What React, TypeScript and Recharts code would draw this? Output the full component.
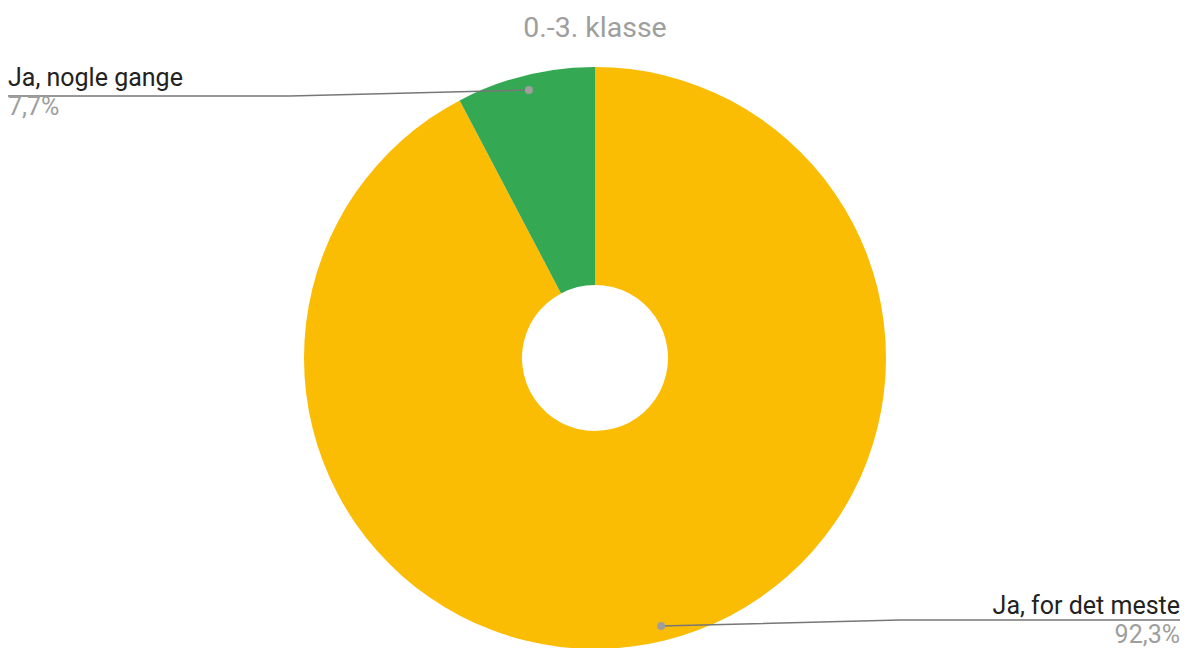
import { Cell, Pie, PieChart } from 'recharts'

// data
const categories = ['Ja, for det meste', 'Ja, nogle gange']
const values = [92.3, 7.7]
const valueLabels = ['92,3%', '7,7%']
const COLORS = ['#FBBC04', '#34A853']

const data = categories.map((name, i) => ({ name, value: values[i], pct: valueLabels[i] }))

const RADIAN = Math.PI / 180

const renderLabel = (props: any) => {
    const { cx, cy, midAngle, outerRadius, index } = props
    const r = outerRadius - 15
    const dx = cx + r * Math.cos(-midAngle * RADIAN)
    const dy = cy + r * Math.sin(-midAngle * RADIAN)
    const right = dx > cx
    const top = dy < cy
    const lineY = dy + (top ? 6 : -6)
    const elbowX = right ? cx + 305 : cx - 305
    const endX = right ? 1180 : 8
    const anchor = right ? 'end' : 'start'
    return (
        <g key={`lbl-${index}`}>
            <polyline
                points={`${dx},${dy} ${elbowX},${lineY} ${endX},${lineY}`}
                fill="none"
                stroke="#777"
                strokeWidth={1.5}
            />
            <circle cx={dx} cy={dy} r={4} fill="#9e9e9e" />
            <text x={endX} y={lineY + (top ? -10 : -6)} textAnchor={anchor} fill="#222" fontSize={25} fontFamily="Roboto">
                {data[index].name}
            </text>
            <text x={endX} y={lineY + (top ? 19 : 23)} textAnchor={anchor} fill="#9e9e9e" fontSize={25} fontFamily="Roboto">
                {data[index].pct}
            </text>
        </g>
    )
}

export default function App() {
    return (
        <div style={{ position: 'fixed', left: 0, top: 0, background: '#fff' }}>
            <PieChart width={1185} height={648} margin={{ top: 0, right: 0, bottom: 0, left: 0 }}>
                <text x={595} y={37} textAnchor="middle" fill="#9e9e9e" fontSize={28.5} fontFamily="Roboto">
                    0.-3. klasse
                </text>
                <Pie
                    data={data}
                    dataKey="value"
                    nameKey="name"
                    cx={595}
                    cy={358}
                    outerRadius={291}
                    innerRadius={73}
                    startAngle={90}
                    endAngle={-270}
                    stroke="none"
                    label={renderLabel}
                    labelLine={false}
                    isAnimationActive={false}
                >
                    {data.map((_, index) => (
                        <Cell key={`cell-${index}`} fill={COLORS[index % COLORS.length]} />
                    ))}
                </Pie>
            </PieChart>
        </div>
    )
}
